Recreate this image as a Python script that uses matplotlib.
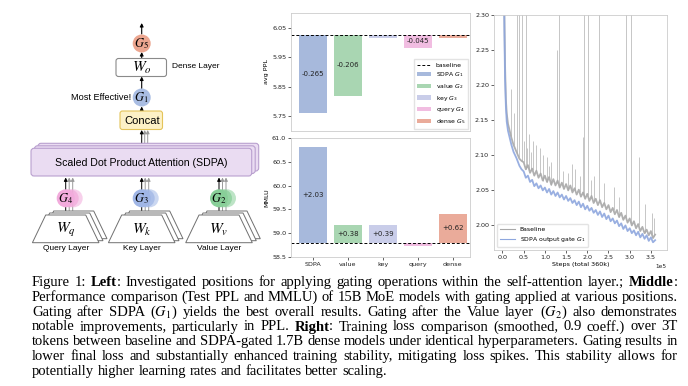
import numpy as np
import matplotlib

matplotlib.use("Agg")
import matplotlib.pyplot as plt
from matplotlib.patches import Circle, FancyBboxPatch, Polygon, Patch
from matplotlib.lines import Line2D

# ---- middle panel: gating position comparison ----
positions = ["SDPA", "value", "key", "query", "dense"]
legend_names = ["SDPA $G_1$", "value $G_2$", "key $G_3$", "query $G_4$", "dense $G_5$"]
ppl_baseline = 6.026
ppl_delta = [-0.265, -0.206, -0.012, -0.045, -0.012]
mmlu_baseline = 58.79
mmlu_delta = [2.03, 0.38, 0.39, -0.05, 0.62]
bar_colors = ["#a7b9dc", "#a9d6b2", "#c9cde9", "#f1bde1", "#eaab9a"]

# ---- right panel: training loss (steps in thousands) ----
steps_k = [3, 4.5, 6, 8, 10, 13, 17, 21, 26, 33, 40, 45] + list(range(50, 361, 5))
baseline_loss = [2.42, 2.30, 2.23, 2.18, 2.16, 2.145, 2.135, 2.125, 2.115, 2.105, 2.095, 2.092,
                 2.090, 2.080, 2.086, 2.075, 2.081, 2.071, 2.078, 2.068, 2.074, 2.064,
                 2.071, 2.062, 2.069, 2.058, 2.066, 2.057, 2.064, 2.054, 2.061, 2.052,
                 2.059, 2.050, 2.057, 2.047, 2.053, 2.044, 2.051, 2.041, 2.047, 2.038,
                 2.045, 2.035, 2.042, 2.032, 2.038, 2.029, 2.036, 2.026, 2.032, 2.023,
                 2.029, 2.019, 2.025, 2.016, 2.022, 2.012, 2.018, 2.008, 2.014, 2.004,
                 2.010, 2.000, 2.006, 1.996, 2.002, 1.992, 1.998, 1.989, 1.994, 1.986,
                 1.992, 1.982, 1.987]
gate_loss = [2.40, 2.28, 2.21, 2.17, 2.148, 2.135, 2.125, 2.115, 2.105, 2.096, 2.085, 2.080,
             2.077, 2.068, 2.071, 2.062, 2.065, 2.056, 2.060, 2.053, 2.057, 2.050,
             2.054, 2.047, 2.052, 2.044, 2.049, 2.042, 2.047, 2.040, 2.044, 2.037,
             2.042, 2.035, 2.039, 2.032, 2.036, 2.029, 2.034, 2.026, 2.031, 2.023,
             2.028, 2.021, 2.025, 2.018, 2.022, 2.015, 2.020, 2.012, 2.017, 2.009,
             2.014, 2.006, 2.010, 2.003, 2.007, 1.999, 2.003, 1.995, 2.000, 1.992,
             1.996, 1.989, 1.993, 1.986, 1.991, 1.983, 1.988, 1.981, 1.986, 1.978,
             1.983, 1.976, 1.979]
spike_k = [34, 38.5, 45, 55, 134, 193, 201, 228, 291, 303,
           20, 26, 128, 50, 58, 63, 68, 71, 80, 88, 95, 105, 110, 115,
           143, 155, 163, 172, 182, 191, 208, 217, 240, 262, 275, 321, 335, 352, 358]
spike_peak = [2.40, 2.40, 2.40, 2.40, 2.40, 2.40, 2.40, 2.40, 2.40, 2.40,
              2.195, 2.16, 2.25, 2.12, 2.11, 2.13, 2.105, 2.12, 2.115, 2.11, 2.10,
              2.098, 2.085, 2.09, 2.078, 2.075, 2.088, 2.08, 2.07, 2.126, 2.065,
              2.07, 2.06, 2.055, 2.04, 2.098, 2.03, 2.018, 2.01]

caption = [
    "Figure 1: *Left*: Investigated positions for applying gating operations within the self-attention layer.; *Middle*:",
    "Performance comparison (Test PPL and MMLU) of 15B MoE models with gating applied at various positions.",
    "Gating after SDPA ($G_1$) yields the best overall results. Gating after the Value layer ($G_2$) also demonstrates",
    "notable improvements, particularly in PPL. *Right*: Training loss comparison (smoothed, 0.9 coeff.) over 3T",
    "tokens between baseline and SDPA-gated 1.7B dense models under identical hyperparameters. Gating results in",
    "lower final loss and substantially enhanced training stability, mitigating loss spikes. This stability allows for",
    "potentially higher learning rates and facilitates better scaling.",
]

fig = plt.figure(figsize=(6.88, 3.86), dpi=100)

# background axes in pixel units for the diagram and caption
bg = fig.add_axes([0, 0, 1, 1])
bg.set_xlim(0, 688)
bg.set_ylim(386, 0)
bg.axis("off")

SANS = "Liberation Sans"


def arrow(x, y0, y1, color="black", lw=0.8):
    bg.annotate("", xy=(x, y1), xytext=(x, y0),
                arrowprops=dict(arrowstyle="-|>", color=color, lw=lw,
                                mutation_scale=5, shrinkA=0, shrinkB=0), zorder=2)


cx = 141.7
# top part of the diagram
arrow(cx, 34, 23)
bg.add_patch(Circle((cx, 43.5), 9, fc="#eca690", ec="none", zorder=3))
bg.text(cx, 43.5, "$G_5$", ha="center", va="center", fontsize=9,
        math_fontfamily="stix", zorder=4)
arrow(cx, 58.5, 52)
bg.add_patch(FancyBboxPatch((116, 58.5), 50.5, 18, boxstyle="round,pad=0,rounding_size=2.5",
                            fc="white", ec="#8a8a8a", lw=0.8, zorder=3))
bg.text(cx, 67.5, "$W_o$", ha="center", va="center", fontsize=11,
        math_fontfamily="stix", zorder=4)
bg.text(172, 67, "Dense Layer", ha="left", va="center", fontsize=6, family=SANS)
arrow(cx, 88.5, 76.5)
bg.add_patch(Circle((cx, 97.5), 9, fc="#a9bde3", ec="none", zorder=3))
bg.text(cx, 97.5, "$G_1$", ha="center", va="center", fontsize=9,
        math_fontfamily="stix", zorder=4)
bg.text(131, 98, "Most Effective!", ha="right", va="center", fontsize=6.6, family=SANS)
arrow(cx, 111, 106.5)
bg.add_patch(FancyBboxPatch((120, 111), 42.5, 18.5, boxstyle="round,pad=0,rounding_size=2.5",
                            fc="#fdf1c6", ec="#e4c45a", lw=0.8, zorder=3))
bg.text(cx, 120.5, "Concat", ha="center", va="center", fontsize=8, family=SANS, zorder=4)
for dx, col in [(6, "#9a9a9a"), (3, "#9a9a9a"), (0, "black")]:
    arrow(cx + dx, 148, 130, color=col, lw=0.7)

# SDPA block with stacked copies
for dx, dy in [(7, -5), (3.5, -2.5), (0, 0)]:
    bg.add_patch(FancyBboxPatch((31 + dx, 148.3 + dy), 220.7, 27.7,
                                boxstyle="round,pad=0,rounding_size=3",
                                fc="#eadcf2", ec="#b9a0cf", lw=0.8, zorder=3))
bg.text(141.3, 162.5, "Scaled Dot Product Attention (SDPA)", ha="center", va="center",
        fontsize=7.6, family=SANS, zorder=4)

# Q / K / V branches
branches = [(65.7, "$G_4$", "#f2abdc", "$W_q$", "Query Layer"),
            (141.7, "$G_3$", "#a0b6e6", "$W_k$", "Key Layer"),
            (219.0, "$G_2$", "#88cf98", "$W_v$", "Value Layer")]
for bx, glab, gcol, wlab, name in branches:
    for dx, col in [(7, "#9a9a9a"), (3.5, "#9a9a9a"), (0, "black")]:
        arrow(bx + dx, 212, 177.5, color=col, lw=0.7)
    for dx, a in [(8, 0.55), (4, 0.75), (0, 1.0)]:
        bg.add_patch(Circle((bx + dx, 198.3), 9, fc=gcol, ec="none", alpha=a, zorder=3))
    bg.text(bx, 198.5, glab, ha="center", va="center", fontsize=9,
            math_fontfamily="stix", zorder=4)
    for dx, dy in [(8, -4), (4, -2), (0, 0)]:
        pts = [(bx - 33.3 + dx, 242.7 + dy), (bx + 33.3 + dx, 242.7 + dy),
               (bx + 20 + dx, 215 + dy), (bx - 20 + dx, 215 + dy)]
        bg.add_patch(Polygon(pts, closed=True, fc="white", ec="#707070", lw=0.7, zorder=3))
    bg.text(bx, 230, wlab, ha="center", va="center", fontsize=11,
            math_fontfamily="stix", zorder=4)
    bg.text(bx, 249, name, ha="center", va="center", fontsize=6, family=SANS)

# ---- middle charts ----
x = np.arange(len(positions))
tick_kw = dict(labelsize=4.6, length=2, width=0.5, pad=1.5, colors="#222222")

ax1 = fig.add_axes([291 / 688, 1 - 131 / 386, 179 / 688, 118 / 386])
ax1.bar(x, ppl_delta, bottom=ppl_baseline, width=0.8, color=bar_colors)
ax1.axhline(ppl_baseline, ls="--", color="black", lw=0.7, dashes=(3, 2))
for xi, d in zip(x, ppl_delta):
    if abs(d) > 0.02:
        ax1.text(xi, ppl_baseline + d / 2, f"{d:.3f}", ha="center", va="center",
                 fontsize=5, color="#222222")
ax1.set_ylim(5.70, 6.10)
ax1.set_yticks([5.75, 5.85, 5.95, 6.05])
ax1.set_xlim(-0.63, 4.5)
ax1.set_xticks([])
ax1.set_ylabel("avg PPL", fontsize=4.6, labelpad=2)
ax1.tick_params(axis="y", **tick_kw)
handles = [Line2D([], [], ls="--", color="black", lw=0.7, dashes=(3, 2))]
handles += [Patch(facecolor=c) for c in bar_colors]
ax1.legend(handles, ["baseline"] + legend_names, loc="lower right", fontsize=4.4,
           frameon=True, edgecolor="#dddddd", fancybox=False, handlelength=2.2,
           borderpad=0.5, labelspacing=0.45, handletextpad=0.8, borderaxespad=0.3)

ax2 = fig.add_axes([291 / 688, 1 - 257 / 386, 179 / 688, 119 / 386])
ax2.bar(x, mmlu_delta, bottom=mmlu_baseline, width=0.8, color=bar_colors)
ax2.axhline(mmlu_baseline, ls="--", color="black", lw=0.7, dashes=(3, 2))
for xi, d in zip(x, mmlu_delta):
    if d > 0.1:
        ax2.text(xi, mmlu_baseline + d / 2, f"{d:+.2f}", ha="center", va="center",
                 fontsize=5, color="#222222")
ax2.set_ylim(58.5, 61.0)
ax2.set_yticks([58.5, 59.0, 59.5, 60.0, 60.5, 61.0])
ax2.set_xlim(-0.63, 4.5)
ax2.set_xticks(x)
ax2.set_xticklabels(positions)
ax2.set_ylabel("MMLU", fontsize=4.6, labelpad=2)
ax2.tick_params(**tick_kw)

for a in (ax1, ax2):
    for s in a.spines.values():
        s.set_color("#cccccc")
        s.set_linewidth(0.6)

# ---- right chart: loss curves ----
steps = np.array(steps_k) * 1000
ax3 = fig.add_axes([494 / 688, 1 - 250 / 386, 173 / 688, 235 / 386])
sx = np.array(spike_k) * 1000
ax3.vlines(sx, np.interp(sx, steps, baseline_loss), spike_peak, color="#bdbdbd", lw=0.6)
ax3.plot(steps, baseline_loss, color="#a8a8a8", lw=1.3, alpha=0.9)
ax3.plot(steps, gate_loss, color="#8ea7de", lw=1.3, alpha=0.9)
ax3.set_xlim(-20000, 388000)
ax3.set_ylim(1.965, 2.30)
ax3.set_yticks(np.round(np.arange(2.00, 2.301, 0.05), 2))
ax3.yaxis.set_major_formatter(matplotlib.ticker.FormatStrFormatter("%.2f"))
ax3.set_xticks(np.arange(0, 350001, 50000))
ax3.ticklabel_format(style="sci", axis="x", scilimits=(0, 0))
ax3.xaxis.get_offset_text().set_fontsize(4.2)
ax3.set_xlabel("Steps (total 360k)", fontsize=4.6, labelpad=1.5)
ax3.tick_params(**tick_kw)
for s in ax3.spines.values():
    s.set_color("#cccccc")
    s.set_linewidth(0.6)
lh = [Line2D([], [], color="#a8a8a8", lw=0.8), Line2D([], [], color="#8ea7de", lw=0.8)]
ax3.legend(lh, ["Baseline", "SDPA output gate $G_1$"], loc="lower left", fontsize=4.4,
           frameon=True, edgecolor="#dddddd", fancybox=True, handlelength=2.4,
           borderpad=0.5, labelspacing=0.5)

# ---- caption, justified line by line ----
renderer = fig.canvas.get_renderer()
cap_size = 10.5
x0, x1 = 32.0, 677.5
for i, line in enumerate(caption):
    yb = 285.8 + 14.9 * i
    groups = []
    for word in line.split(" "):
        pieces = []
        for k, p in enumerate(word.split("*")):
            if p:
                t = bg.text(0, yb, p, fontsize=cap_size, family="Liberation Serif",
                            weight="bold" if k % 2 else "normal", va="baseline",
                            ha="left", math_fontfamily="stix")
                pieces.append(t)
        groups.append(pieces)
    widths = [[t.get_window_extent(renderer).width for t in g] for g in groups]
    total = sum(sum(w) for w in widths)
    if i < len(caption) - 1:
        gap = (x1 - x0 - total) / (len(groups) - 1)
    else:
        gap = cap_size * 100 / 72 * 0.25
    cur = x0
    for g, w in zip(groups, widths):
        for t, wi in zip(g, w):
            t.set_x(cur)
            cur += wi
        cur += gap

fig.savefig("out.png", dpi=100)
